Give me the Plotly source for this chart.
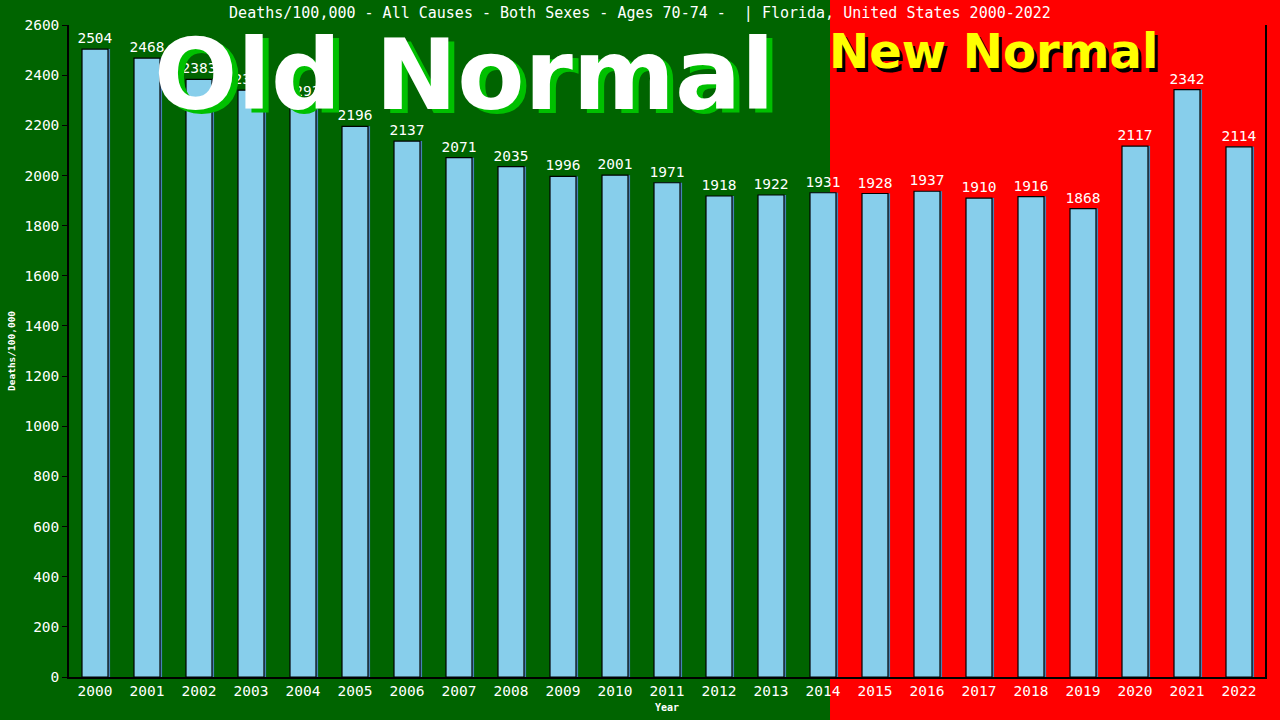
import plotly.graph_objects as go

years = [str(y) for y in range(2000, 2023)]
deaths = [2504, 2468, 2383, 2340, 2293, 2196, 2137, 2071, 2035, 1996, 2001, 1971,
          1918, 1922, 1931, 1928, 1937, 1910, 1916, 1868, 2117, 2342, 2114]
y_ticks = list(range(0, 2601, 200))

mono = "DejaVu Sans Mono"

fig = go.Figure()

# blue shadow strip behind each bar
fig.add_trace(go.Bar(x=years, y=deaths, width=0.5, offset=-0.21,
                     marker=dict(color="#4682B4", line=dict(width=0)),
                     hoverinfo="skip", showlegend=False))
fig.add_trace(go.Bar(x=years, y=deaths, width=0.5, offset=-0.25,
                     marker=dict(color="#87CEEB", line=dict(color="black", width=1.2)),
                     text=[str(v) for v in deaths], textposition="outside",
                     constraintext="none",
                     textfont=dict(family=mono, size=14.5, color="white"),
                     cliponaxis=False, showlegend=False))

# red "new normal" background from between 2014 and 2015 to the right edge
fig.add_shape(type="rect", xref="paper", yref="paper",
              x0=0.6363, x1=1.02, y0=-0.1, y1=1.1,
              fillcolor="#FF0000", line=dict(width=0), layer="below")

# big labels with drop shadows
big = [("Old Normal", 0.331, 0.923, 98, "white", "#00C000", 0.0045, -0.006),
       ("New Normal", 0.7726, 0.960, 48, "#FFFF00", "black", 0.003, -0.006)]
for txt, x, y, size, col, shadow, dx, dy in big:
    fig.add_annotation(text="<b>" + txt + "</b>", xref="paper", yref="paper",
                       x=x + dx, y=y + dy, xanchor="center", yanchor="middle",
                       showarrow=False,
                       font=dict(family="DejaVu Sans", size=size, color=shadow))
    fig.add_annotation(text="<b>" + txt + "</b>", xref="paper", yref="paper",
                       x=x, y=y, xanchor="center", yanchor="middle",
                       showarrow=False,
                       font=dict(family="DejaVu Sans", size=size, color=col))

# axis titles
fig.add_annotation(text="<b>Deaths/100,000</b>", xref="paper", yref="paper",
                   x=-0.0485, y=0.5, xanchor="center", yanchor="middle",
                   textangle=-90, showarrow=False,
                   font=dict(family=mono, size=9.5, color="white"))
fig.add_annotation(text="<b>Year</b>", xref="paper", yref="paper",
                   x=0.5, y=-0.0475, xanchor="center", yanchor="middle",
                   showarrow=False,
                   font=dict(family=mono, size=10, color="white"))

fig.update_layout(
    width=1280, height=720,
    margin=dict(l=69, r=15, t=25, b=43, autoexpand=False),
    paper_bgcolor="#006400",
    plot_bgcolor="rgba(0,0,0,0)",
    barmode="overlay",
    title=dict(text="Deaths/100,000 - All Causes - Both Sexes - Ages 70-74 -  | Florida, United States 2000-2022",
               x=0.5, xanchor="center", y=0.982, yanchor="middle",
               font=dict(family=mono, size=15, color="white")),
    xaxis=dict(type="category", showgrid=False, showline=True, linecolor="black",
               linewidth=1.5, ticks="", automargin=False,
               tickfont=dict(family=mono, size=14.5, color="white")),
    yaxis=dict(range=[0, 2600], tickvals=y_ticks, showgrid=False, showline=True,
               mirror=True, linecolor="black", linewidth=1.5, ticks="outside",
               ticklen=5, tickcolor="black", zeroline=False, automargin=False,
               tickfont=dict(family=mono, size=14.5, color="white")),
)

fig.write_html("out.html", config={"displayModeBar": False},
               post_script="document.body.style.margin='0';document.body.style.overflow='hidden';")
